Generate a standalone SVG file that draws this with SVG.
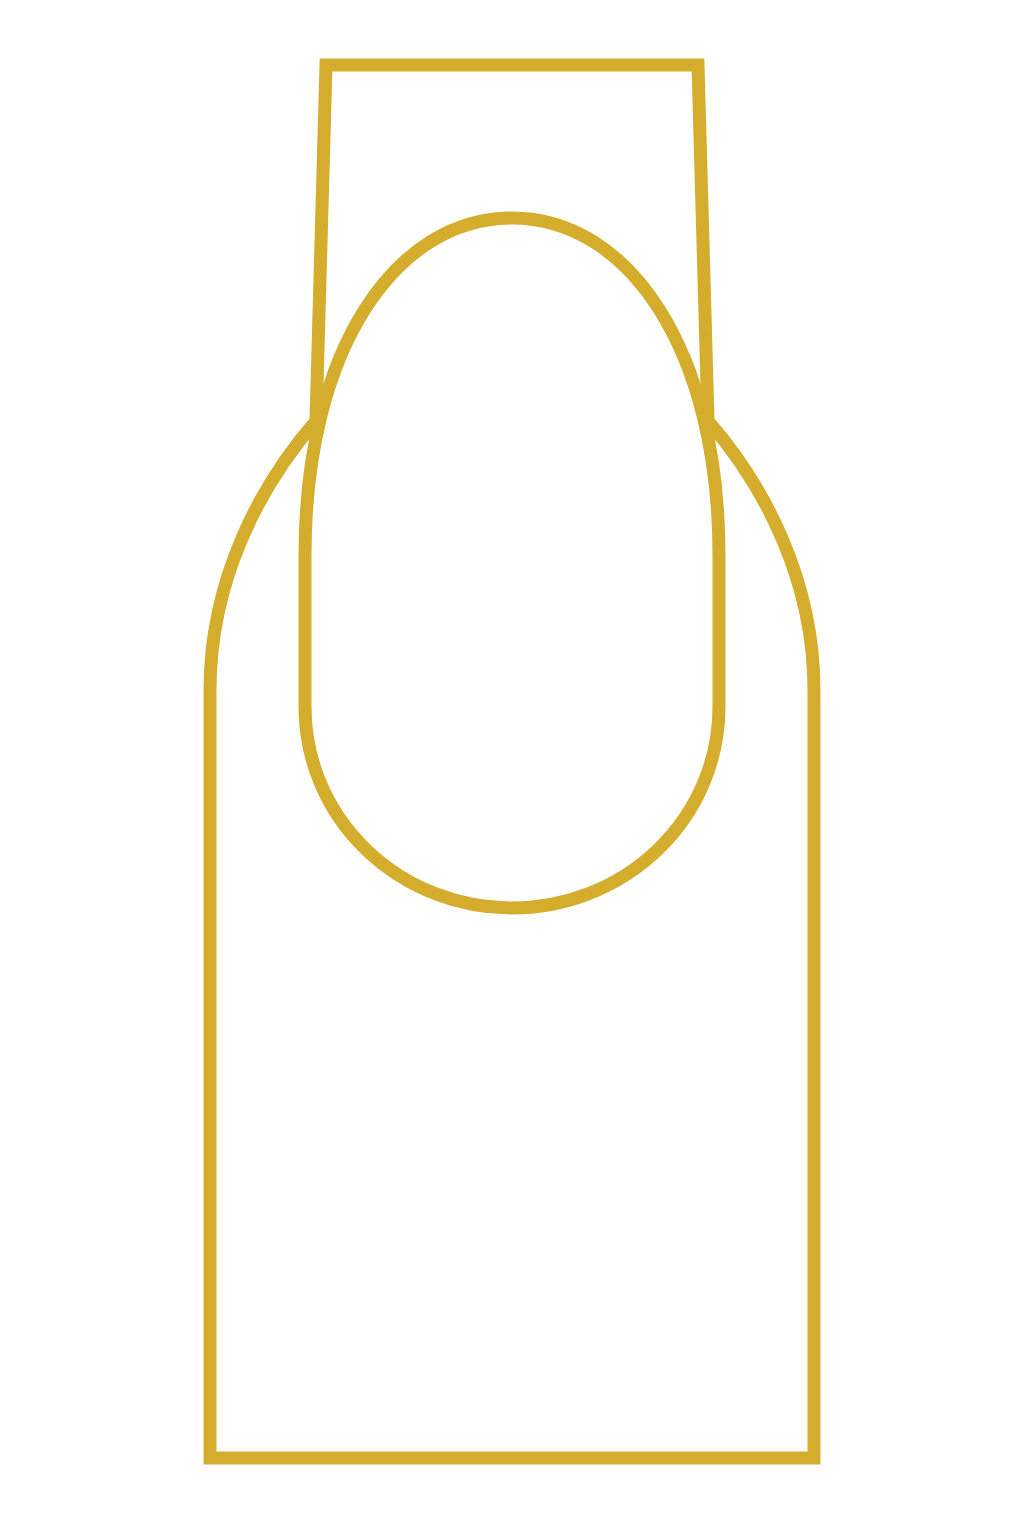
<svg xmlns="http://www.w3.org/2000/svg" width="1024" height="1536" viewBox="0 0 1024 1536">
<style>
.ln{fill:none;stroke:#D5AD2D;stroke-width:13;stroke-linejoin:miter}
.nail{fill:#FFFFFF;stroke:#D5AD2D;stroke-width:13}
</style>
<rect width="1024" height="1536" fill="#FFFFFF"/>
<g id="finger">
<path class="ln" d="M 210 690 L 210 1458 L 814 1458 L 814 690 C 814 580 764 485 708 421 L 698 65 L 326 65 L 316 421 C 260 485 210 580 210 690 Z"/>
</g>
<g id="nail">
<path class="nail" d="M 305 555 C 305 350 395 218 512 218 C 629 218 719 350 719 555 L 719 707 A 207 201 0 0 1 305 707 Z"/>
</g>
</svg>
